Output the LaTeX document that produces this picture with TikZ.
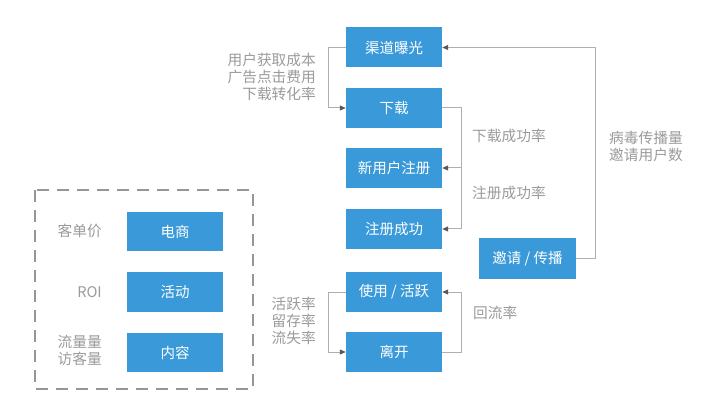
\documentclass[tikz,border=0pt]{standalone}
\usepackage{fontspec}
\setmainfont{Noto Sans CJK SC}
\usetikzlibrary{arrows.meta}
\definecolor{boxblue}{RGB}{58,154,217}
\definecolor{lbl}{RGB}{155,155,155}
\definecolor{ln}{RGB}{175,175,175}
\definecolor{dashgray}{RGB}{150,150,150}
\begin{document}
\begin{tikzpicture}[x=1pt,y=-1pt,
  bx/.style={fill=boxblue,text=white,minimum width=96pt,minimum height=40pt,inner sep=0pt,font=\fontsize{14.5}{16}\selectfont},
  lb/.style={text=lbl,inner sep=0pt,font=\fontsize{14.7}{17}\selectfont},
  conn/.style={draw=ln,line width=1pt,-{Triangle[length=6pt,width=5pt,fill=gray!70!black,color=gray!70!black]}},
  plain/.style={draw=ln,line width=1pt}]
\useasboundingbox (0,0) rectangle (720,414);
\fill[white] (0,0) rectangle (720,414);
% main column
\node[bx] (b1) at (394,47.5) {渠道曝光};
\node[bx] (b2) at (394,108) {下载};
\node[bx] (b3) at (394,168) {新用户注册};
\node[bx] (b4) at (394,229) {注册成功};
\node[bx] (b5) at (394,292) {使用 / 活跃};
\node[bx] (b6) at (394,352) {离开};
\node[bx,minimum width=97pt,minimum height=41pt] (inv) at (527.5,258.5) {邀请 / 传播};
% dashed group
\draw[draw=dashgray,line width=2.6pt,dash pattern=on 12pt off 8pt] (35,190) rectangle (253,389);
\node[bx,minimum height=39pt] (e1) at (175,231.5) {电商};
\node[bx] (e2) at (175,292) {活动};
\node[bx,minimum height=39pt] (e3) at (175,352.5) {内容};
\node[lb,anchor=east] (l1) at (102,231) {客单价};
\node[lb,anchor=east] (l2) at (102,292) {ROI};
\node[lb,anchor=east,align=right] (l3) at (102,350.5) {流量量\\访客量};
% connectors
\coordinate (c1) at (328,47.5);
\coordinate (c2) at (328,108);
\draw[plain] (b1.west) -- (c1) -- (c2);
\draw[conn] (c2) -- (b2.west);
\node[lb,anchor=east,align=right] (t1) at (316,77) {用户获取成本\\广告点击费用\\下载转化率};

\coordinate (c3) at (461,108);
\coordinate (c4) at (461,168);
\coordinate (c5) at (461,229);
\draw[plain] (b2.east) -- (c3) -- (c5);
\draw[conn] (c4) -- (b3.east);
\draw[conn] (c5) -- (b4.east);
\node[lb,anchor=west] (t2) at (472,136) {下载成功率};
\node[lb,anchor=west] (t3) at (472,193) {注册成功率};

\coordinate (c6) at (595,258.5);
\coordinate (c7) at (595,47.5);
\draw[plain] (inv.east) -- (c6) -- (c7);
\draw[conn] (c7) -- (b1.east);
\node[lb,anchor=west,align=left] (t4) at (609,146) {病毒传播量\\邀请用户数};

\coordinate (c8) at (328,292);
\coordinate (c9) at (328,352);
\draw[plain] (b5.west) -- (c8) -- (c9);
\draw[conn] (c9) -- (b6.west);
\node[lb,anchor=east,align=right] (t5) at (316,321) {活跃率\\留存率\\流失率};

\coordinate (c10) at (461,352);
\coordinate (c11) at (461,292);
\draw[plain] (b6.east) -- (c10) -- (c11);
\draw[conn] (c11) -- (b5.east);
\node[lb,anchor=west] (t6) at (473,313) {回流率};
\end{tikzpicture}
\end{document}
